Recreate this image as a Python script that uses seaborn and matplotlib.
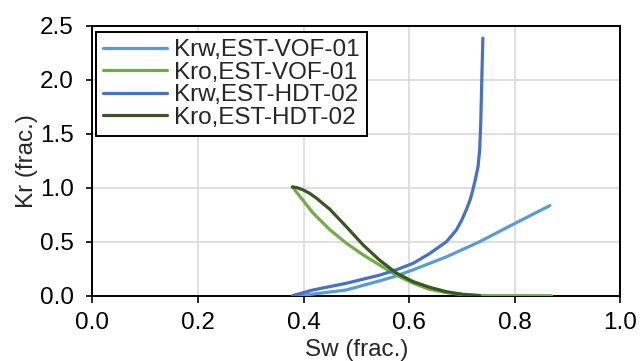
import matplotlib
matplotlib.use("Agg")
import matplotlib.pyplot as plt
import seaborn as sns
import pandas as pd

# ---- data ----
sw_krw_vof = [0.39, 0.418, 0.481, 0.544, 0.576, 0.608, 0.671, 0.734, 0.797, 0.867]
kr_krw_vof = [0.0, 0.015, 0.053, 0.137, 0.183, 0.24, 0.36, 0.50, 0.66, 0.834]

sw_kro_vof = [0.379, 0.393, 0.418, 0.450, 0.481, 0.513, 0.544, 0.576, 0.608, 0.639, 0.671, 0.702, 0.747, 0.870]
kr_kro_vof = [1.007, 0.92, 0.766, 0.61, 0.487, 0.378, 0.285, 0.19, 0.115, 0.059, 0.028, 0.01, 0.0, 0.0]

sw_krw_hdt = [0.379, 0.418, 0.481, 0.544, 0.576, 0.608, 0.639, 0.671, 0.690, 0.700, 0.709, 0.716, 0.721, 0.726, 0.731, 0.734, 0.736, 0.738, 0.740]
kr_krw_hdt = [0.0, 0.053, 0.115, 0.19, 0.24, 0.30, 0.39, 0.50, 0.61, 0.70, 0.80, 0.89, 0.98, 1.08, 1.20, 1.35, 1.60, 2.00, 2.385]

sw_kro_hdt = [0.379, 0.388, 0.399, 0.411, 0.424, 0.450, 0.481, 0.513, 0.544, 0.576, 0.608, 0.639, 0.671, 0.702, 0.734]
kr_kro_hdt = [1.007, 1.0, 0.98, 0.95, 0.905, 0.80, 0.64, 0.47, 0.33, 0.21, 0.13, 0.078, 0.037, 0.013, 0.0]

series_names = ["Krw,EST-VOF-01", "Kro,EST-VOF-01", "Krw,EST-HDT-02", "Kro,EST-HDT-02"]
colors = ["#5B9BD5", "#70AD47", "#4472C4", "#375623"]
x_ticks = [0.0, 0.2, 0.4, 0.6, 0.8, 1.0]
y_ticks = [0.0, 0.5, 1.0, 1.5, 2.0, 2.5]

frames = []
for name, xs, ys in zip(series_names,
                        [sw_krw_vof, sw_kro_vof, sw_krw_hdt, sw_kro_hdt],
                        [kr_krw_vof, kr_kro_vof, kr_krw_hdt, kr_kro_hdt]):
    frames.append(pd.DataFrame({"Sw": xs, "Kr": ys, "series": name}))
df = pd.concat(frames, ignore_index=True)

sns.set_style("white")
plt.rcParams["font.family"] = ["Liberation Sans", "DejaVu Sans"]

FS = 17.5
fig = plt.figure(figsize=(6.41, 3.61), dpi=100)
ax = fig.add_axes([92.5 / 641, 1 - 295.7 / 361, (620 - 92.5) / 641, (295.7 - 25.7) / 361])

sns.lineplot(data=df, x="Sw", y="Kr", hue="series", hue_order=series_names,
             palette=colors, sort=False, estimator=None, linewidth=2.3, ax=ax,
             zorder=3)

ax.set_xlim(0, 1.0)
ax.set_ylim(0, 2.5)
ax.set_xticks(x_ticks)
ax.set_yticks(y_ticks)
ax.set_xticklabels([f"{v:.1f}" for v in x_ticks])
ax.set_yticklabels([f"{v:.1f}" for v in y_ticks])
ax.grid(True, color="#D9D9D9", linewidth=1.2, zorder=0)
ax.set_axisbelow(True)
for s in ax.spines.values():
    s.set_visible(True)
    s.set_color("black")
    s.set_linewidth(1.4)
ax.tick_params(axis="x", direction="out", length=5, width=1.2, pad=7,
               labelsize=FS, colors="black", bottom=True)
ax.tick_params(axis="y", direction="out", length=4.5, width=1.2, pad=9,
               labelsize=FS, colors="black", left=True)
ax.set_xlabel("Sw (frac.)", fontsize=FS, labelpad=3)
ax.set_ylabel("Kr (frac.)", fontsize=FS, labelpad=1)

leg = ax.legend(loc="upper left", bbox_to_anchor=(0.007, 0.977), borderaxespad=0,
                fontsize=FS, frameon=True, fancybox=False, framealpha=1,
                edgecolor="black", labelspacing=0.02, handlelength=2.6,
                handletextpad=0.3, borderpad=0.3, title=None)
leg.get_frame().set_linewidth(1.4)
for h in leg.get_lines():
    h.set_linewidth(2.3)

fig.savefig("out.png", dpi=100)
